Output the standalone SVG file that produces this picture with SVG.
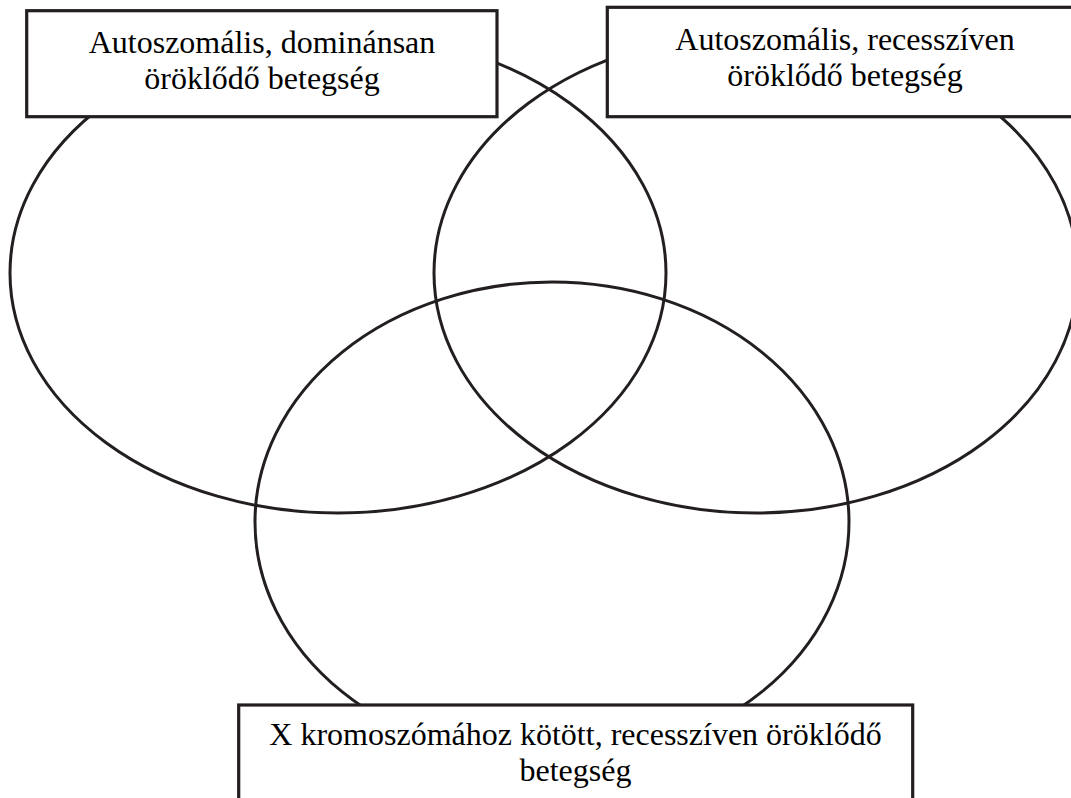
<svg xmlns="http://www.w3.org/2000/svg" width="1071" height="798" viewBox="0 0 1071 798">
<style>
.ell{fill:none;stroke:#231f20;stroke-width:3}
.box{fill:#fff;stroke:#231f20;stroke-width:3.2}
.lbl{font-family:"Liberation Serif","Times New Roman",serif;font-size:32px;fill:#000;text-anchor:middle}
</style>
<rect width="1071" height="798" fill="#fff"/>
<g id="connectors"></g>
<g id="set-dominant"><ellipse class="ell" cx="338" cy="273" rx="328" ry="240"/></g>
<g id="set-recessive"><ellipse class="ell" cx="756" cy="273" rx="322" ry="240"/></g>
<g id="set-xlinked"><ellipse class="ell" cx="552" cy="522" rx="297" ry="240"/></g>
<g id="label-dominant">
<rect class="box" x="26.7" y="10.7" width="470.3" height="106"/>
<text class="lbl" x="262" y="53">Autoszomális, dominánsan</text>
<text class="lbl" x="262" y="89">öröklődő betegség</text>
</g>
<g id="label-recessive">
<rect class="box" x="607.3" y="7.3" width="480" height="109.4"/>
<text class="lbl" x="845" y="50">Autoszomális, recesszíven</text>
<text class="lbl" x="845" y="86">öröklődő betegség</text>
</g>
<g id="label-xlinked">
<rect class="box" x="238.7" y="705" width="674" height="110"/>
<text class="lbl" x="575.5" y="745">X kromoszómához kötött, recesszíven öröklődő</text>
<text class="lbl" x="575.5" y="781">betegség</text>
</g>
</svg>
